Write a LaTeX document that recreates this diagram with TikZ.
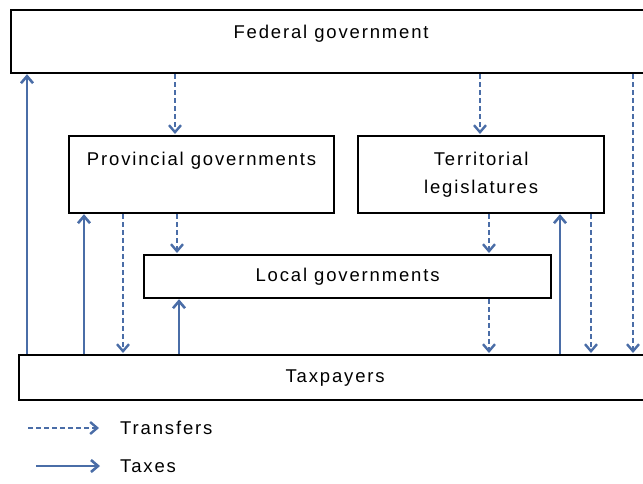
\documentclass[tikz,border=0pt]{standalone}
\usepackage{fontspec}
\setmainfont[LetterSpace=10]{Liberation Sans}
\usetikzlibrary{positioning,arrows.meta}

\definecolor{arrowblue}{RGB}{74,109,167}

\begin{document}
\begin{tikzpicture}[x=1pt,y=-1pt,
  every node/.style={font=\fontsize{18.5}{28}\selectfont},
  govbox/.style={draw,line width=2.2pt,fill=white,rectangle,inner xsep=4pt,inner ysep=4pt},
  transfer/.style={arrowblue,line width=2.4pt,dash pattern=on 5pt off 3pt,
    -{Straight Barb[length=7pt,width=12pt]},shorten >=1pt},
  taxes/.style={arrowblue,line width=2.6pt,
    -{Straight Barb[length=7pt,width=12pt]}}
]
\useasboundingbox (0,0) rectangle (643,483);

% boxes
\node[govbox,anchor=north west,minimum width=640pt,text height=24pt,text depth=31pt]
  (fed) at (10,9) {Federal government};
\node[govbox,anchor=north west,minimum width=265pt,text height=25pt,text depth=44pt]
  (prov) at (68,135) {Provincial governments};
\node[govbox,anchor=north west,minimum width=246pt,minimum height=77pt,align=center]
  (terr) at (357,135) {Territorial\\legislatures};
\node[govbox,anchor=north west,minimum width=407pt,minimum height=43pt]
  (local) at (143,254) {Local governments};
\node[govbox,anchor=north west,minimum width=632pt,minimum height=45pt]
  (tax) at (18,354) {Taxpayers};

% federal
\draw[taxes] (27,0 |- tax.north) -- (27,0 |- fed.south);
\draw[transfer] (175,0 |- fed.south) -- (175,0 |- prov.north);
\draw[transfer] (480,0 |- fed.south) -- (480,0 |- terr.north);
\draw[transfer] (633,0 |- fed.south) -- (633,0 |- tax.north);

% provinces
\draw[taxes] (84,0 |- tax.north) -- (84,0 |- prov.south);
\draw[transfer] (123,0 |- prov.south) -- (123,0 |- tax.north);
\draw[transfer] (177,0 |- prov.south) -- (177,0 |- local.north);

% local
\draw[taxes] (179,0 |- tax.north) -- (179,0 |- local.south);
\draw[transfer] (489,0 |- local.south) -- (489,0 |- tax.north);

% territories
\draw[transfer] (489,0 |- terr.south) -- (489,0 |- local.north);
\draw[taxes] (560,0 |- tax.north) -- (560,0 |- terr.south);
\draw[transfer] (591,0 |- terr.south) -- (591,0 |- tax.north);

% legend
\node[anchor=west,inner sep=0pt] (ltrans) at (120,428) {Transfers};
\node[anchor=west,inner sep=0pt] (ltax) at (120,466) {Taxes};
\coordinate (ltransstart) at (28,428);
\coordinate (ltaxstart) at (36,466);
\draw[transfer] (ltransstart) -- ([xshift=-20pt]ltrans.west);
\draw[taxes] (ltaxstart) -- ([xshift=-20pt]ltax.west);
\end{tikzpicture}
\end{document}
